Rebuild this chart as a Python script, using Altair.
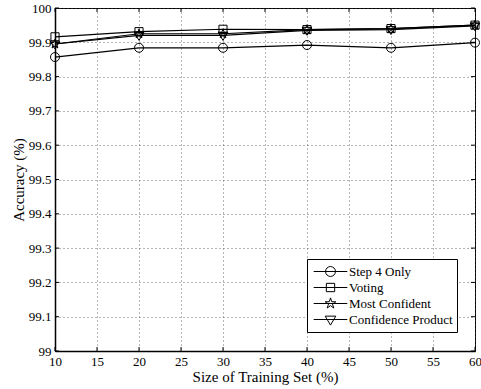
import math
import altair as alt
import pandas as pd

# ---- data ----
train_sizes = [10, 20, 30, 40, 50, 60]
step4_only = [99.857, 99.884, 99.884, 99.892, 99.884, 99.899]
voting = [99.916, 99.931, 99.938, 99.937, 99.940, 99.950]
most_confident = [99.895, 99.925, 99.925, 99.937, 99.940, 99.950]
confidence_product = [99.895, 99.920, 99.920, 99.935, 99.937, 99.948]
series_names = ["Step 4 Only", "Voting", "Most Confident", "Confidence Product"]
x_ticks = [10, 15, 20, 25, 30, 35, 40, 45, 50, 55, 60]
y_ticks = [99.0, 99.1, 99.2, 99.3, 99.4, 99.5, 99.6, 99.7, 99.8, 99.9, 100.0]

rows = []
for name, vals in zip(series_names, [step4_only, voting, most_confident, confidence_product]):
    for s, v in zip(train_sizes, vals):
        rows.append({"size": s, "acc": v, "series": name})
df = pd.DataFrame(rows)
xt_df = pd.DataFrame({"size": x_ticks})
yt_df = pd.DataFrame({"acc": y_ticks})

W, H = 420, 343
TICK = 4

# ---- marker shapes ----
def fmt(v):
    return f"{v:.3f}"

def star_path(s):
    pts = []
    for i in range(10):
        r = s if i % 2 == 0 else s * 0.382
        a = -math.pi / 2 + i * math.pi / 5
        pts.append((r * math.cos(a), r * math.sin(a)))
    return "M" + "L".join(f"{fmt(x)},{fmt(y)}" for x, y in pts) + "Z"

def circle_path(r):
    return (f"M{fmt(r)},0A{fmt(r)},{fmt(r)},0,1,1,{fmt(-r)},0"
            f"A{fmt(r)},{fmt(r)},0,1,1,{fmt(r)},0Z")

def square_path(h):
    return f"M{fmt(-h)},{fmt(-h)}L{fmt(h)},{fmt(-h)}L{fmt(h)},{fmt(h)}L{fmt(-h)},{fmt(h)}Z"

def tri_down_path(r):
    return (f"M{fmt(-r*0.95)},{fmt(-r*0.6)}L{fmt(r*0.95)},{fmt(-r*0.6)}"
            f"L0,{fmt(r)}Z")

plot_shapes = [circle_path(1.0), square_path(0.9), star_path(1.1), tri_down_path(1.1)]

line_seg = "M-2.1,0L2.1,0"
leg_shapes = [
    line_seg + circle_path(0.62),
    line_seg + square_path(0.52),
    line_seg + star_path(0.7),
    line_seg + tri_down_path(0.7),
]

font = "Liberation Serif"

x_enc = alt.X("size:Q",
              scale=alt.Scale(domain=[10, 60], nice=False),
              axis=alt.Axis(values=x_ticks, title="Size of Training Set (%)"))
y_enc = alt.Y("acc:Q",
              scale=alt.Scale(domain=[99, 100], nice=False, zero=False),
              axis=alt.Axis(values=y_ticks, format=".1~f", title="Accuracy (%)"))

base = alt.Chart(df).encode(x=x_enc, y=y_enc)

lines = base.mark_line(color="black", strokeWidth=1.2).encode(detail="series:N")

points = base.mark_point(filled=False, color="black", strokeWidth=1, size=81, opacity=1).encode(
    shape=alt.Shape("series:N", scale=alt.Scale(domain=series_names, range=plot_shapes), legend=None),
)

legend_layer = base.transform_filter("false").mark_point(
    filled=False, color="black", strokeWidth=1, opacity=1
).encode(
    shape=alt.Shape(
        "series:N",
        scale=alt.Scale(domain=series_names, range=leg_shapes),
        legend=alt.Legend(
            title=None, orient="none", legendX=252, legendY=251,
            strokeColor="black", fillColor="white", padding=4,
            symbolSize=256, symbolOffset=11, rowPadding=0,
            symbolStrokeColor="black", symbolFillColor="transparent",
            symbolStrokeWidth=1, labelOffset=10,
            labelFont=font, labelFontSize=13, labelColor="black",
            labelLimit=0,
        ),
    ),
)

# inward tick marks on all four sides (MATLAB style)
xt_base = alt.Chart(xt_df).mark_rule(color="black", strokeWidth=1)
yt_base = alt.Chart(yt_df).mark_rule(color="black", strokeWidth=1)
tick_bottom = xt_base.encode(x=x_enc, y=alt.value(H), y2=alt.value(H - TICK))
tick_top = xt_base.encode(x=x_enc, y=alt.value(0), y2=alt.value(TICK))
tick_left = yt_base.encode(y=y_enc, x=alt.value(0), x2=alt.value(TICK))
tick_right = yt_base.encode(y=y_enc, x=alt.value(W), x2=alt.value(W - TICK))

chart = alt.layer(
    tick_bottom, tick_top, tick_left, tick_right, lines, points, legend_layer
).resolve_scale(shape="independent").properties(
    width=W, height=H,
    autosize=alt.AutoSizeParams(type="none"),
    padding={"left": 55, "top": 8, "right": 6, "bottom": 38},
).configure_view(
    stroke="black", strokeWidth=1
).configure_axis(
    labelFont=font, labelFontSize=13, labelColor="black",
    titleFont=font, titleFontSize=15, titleColor="black", titleFontWeight="normal",
    domainColor="black", domainWidth=1.5,
    ticks=False, labelPadding=4, labelOverlap=False, labelFlush=False,
    grid=True, gridColor="#444", gridDash=[1, 3], gridWidth=0.8,
).configure_axisY(titlePadding=2).configure_axisX(titlePadding=1)

chart.save("out.html", embed_options={"renderer": "svg", "actions": False})
